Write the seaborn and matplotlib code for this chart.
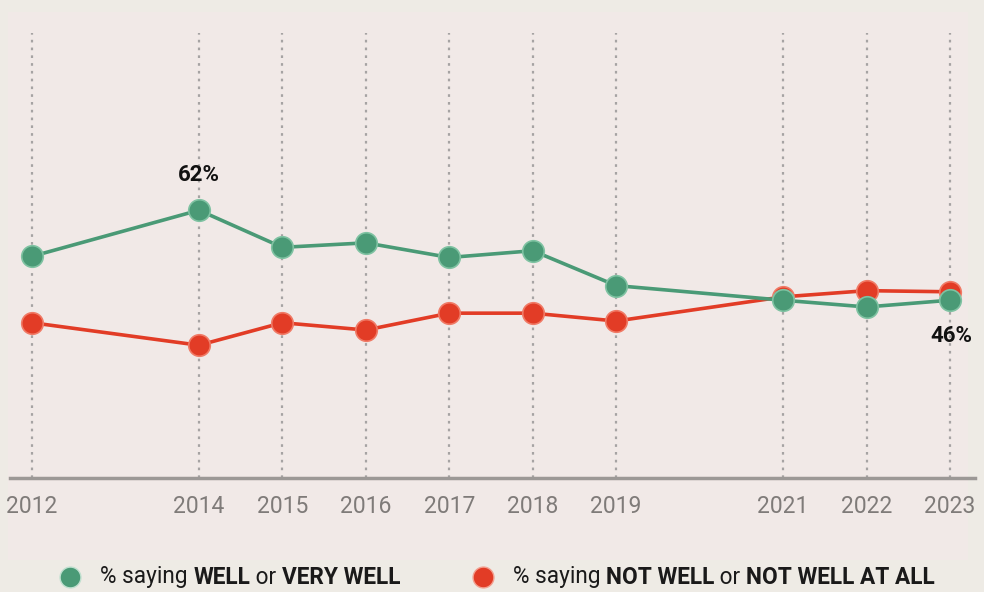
import pandas as pd
import matplotlib.pyplot as plt
from matplotlib.patches import Rectangle
import seaborn as sns

years = [2012, 2014, 2015, 2016, 2017, 2018, 2019, 2021, 2022, 2023]
well = [53.8, 62.0, 55.4, 56.2, 53.6, 54.8, 48.6, 46.0, 44.8, 46.0]
not_well = [42.0, 38.0, 42.0, 40.7, 43.7, 43.7, 42.3, 46.6, 47.7, 47.5]
green = '#4a9a76'
red = '#e23c26'

df = pd.DataFrame({
    'year': years * 2,
    'value': not_well + well,
    'series': ['not_well'] * len(years) + ['well'] * len(years),
})

sns.set_theme(style='white')
plt.rcParams['font.family'] = ['Roboto', 'DejaVu Sans']

fig = plt.figure(figsize=(9.84, 5.92), dpi=100, facecolor='#eeebe5')
W, H = 984, 592
# inner panel, behind the axes
fig.patches.append(Rectangle((8 / W, 1 - 560 / H), 960 / W, 548 / H,
                             transform=fig.transFigure, facecolor='#f1e9e7',
                             edgecolor='none', zorder=-1))

ax = fig.add_axes([10 / W, 1 - 478 / H, 965 / W, 445 / H])
ax.set_facecolor('none')

sns.lineplot(data=df, x='year', y='value', hue='series',
             hue_order=['not_well', 'well'],
             palette={'well': green, 'not_well': red},
             marker='o', markersize=15.5, markeredgewidth=1.2,
             linewidth=2.6, legend=False, ax=ax, zorder=3)
# light edge on the markers
for line, c in zip(ax.lines, ['#f07a66', '#7fc2a2']):
    line.set_markeredgecolor(c)

ax.set_xlim(2011.736, 2023.30)
ax.set_ylim(14.4, 93.5)
ax.set_xticks(years)
ax.set_xticklabels([str(y) for y in years], fontsize=16.5, color='#7f7b79')
ax.set_yticks([])
ax.set_xlabel('')
ax.set_ylabel('')
ax.tick_params(axis='x', length=0, pad=12)
ax.grid(axis='x', color='#a6a3a3', linestyle=(0, (1.2, 2.3)), linewidth=1.6, zorder=1)
ax.set_axisbelow(True)
for s in ['top', 'left', 'right']:
    ax.spines[s].set_visible(False)
ax.spines['bottom'].set_color('#9c9896')
ax.spines['bottom'].set_linewidth(2.5)

ax.annotate('62%', (2014, well[1]), xytext=(0, 25), textcoords='offset points',
            ha='center', va='center', fontsize=16, fontweight='bold', color='#111111')
ax.annotate('46%', (2023, well[-1]), xytext=(1, -26), textcoords='offset points',
            ha='center', va='center', fontsize=16, fontweight='bold', color='#111111')

# legend built from pieces so parts can be bold
renderer = fig.canvas.get_renderer()
ly = 1 - 577 / H


def legend_item(x_dot, x_text, color, edge, parts):
    fig.add_artist(plt.Line2D([x_dot / W], [ly], marker='o', markersize=15,
                              color=color, markeredgecolor=edge,
                              markeredgewidth=1, linestyle='none',
                              transform=fig.transFigure))
    x = x_text / W
    for txt, bold in parts:
        t = fig.text(x, ly, txt, fontsize=16.3, va='center', ha='left', color='#1a1a1a',
                     fontweight='bold' if bold else 'normal')
        bb = t.get_window_extent(renderer)
        x = bb.x1 / W


legend_item(70, 100, green, '#bfe0cf', [('% saying ', False), ('WELL', True), (' or ', False), ('VERY WELL', True)])
legend_item(483, 513, red, '#f3a090', [('% saying ', False), ('NOT WELL', True), (' or ', False), ('NOT WELL AT ALL', True)])

fig.savefig('out.png', dpi=100, facecolor=fig.get_facecolor())
